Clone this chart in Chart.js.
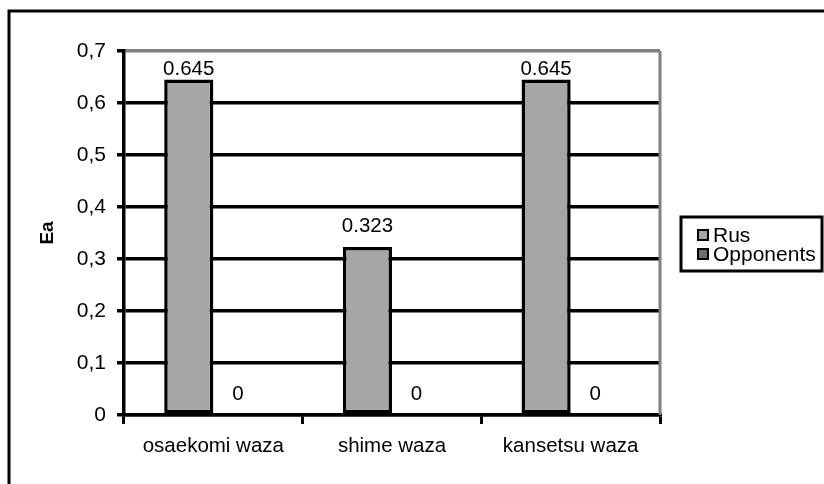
<!DOCTYPE html>
<html>
<head>
<meta charset="utf-8">
<script src="https://cdn.jsdelivr.net/npm/chart.js@4/dist/chart.umd.min.js"></script>
<style>
html,body{margin:0;padding:0;background:#fff;}
canvas{display:block;}
</style>
</head>
<body>
<canvas id="c" width="824" height="484"></canvas>
<script>
const categories = ['osaekomi waza', 'shime waza', 'kansetsu waza'];
const seriesNames = ['Rus', 'Opponents'];
const rusValues = [0.645, 0.323, 0.645];
const opponentValues = [0, 0, 0];
const yMin = 0, yMax = 0.7, yStep = 0.1;
const yTitle = 'Ea';

const FONT = '"Liberation Sans", Arial, sans-serif';

const decorPlugin = {
  id: 'decor',
  beforeDraw(chart) {
    const ctx = chart.ctx;
    ctx.save();
    ctx.fillStyle = '#fff';
    ctx.fillRect(0, 0, chart.width, chart.height);
    // outer frame (left and top)
    ctx.strokeStyle = '#000';
    ctx.lineWidth = 3;
    ctx.beginPath();
    ctx.moveTo(9, chart.height);
    ctx.lineTo(9, 11);
    ctx.lineTo(chart.width, 11);
    ctx.stroke();
    ctx.restore();
  },
  afterDatasetsDraw(chart) {
    const ctx = chart.ctx;
    const area = chart.chartArea;
    ctx.save();
    // right plot border
    ctx.strokeStyle = '#808080';
    ctx.lineWidth = 3;
    ctx.beginPath();
    ctx.moveTo(area.right, area.top);
    ctx.lineTo(area.right, area.bottom);
    ctx.stroke();
    // data labels
    ctx.fillStyle = '#000';
    ctx.font = '20.5px ' + FONT;
    ctx.textAlign = 'center';
    ctx.textBaseline = 'middle';
    chart.data.datasets.forEach((ds, di) => {
      const meta = chart.getDatasetMeta(di);
      meta.data.forEach((el, i) => {
        const v = ds.data[i];
        const y = Math.max(el.y - 21, area.top + 18);
        ctx.fillText(String(v), el.x, y);
      });
    });
    // legend
    const boxL = 681, boxR = 822, boxT = 217, boxB = 271;
    ctx.fillStyle = '#fff';
    ctx.fillRect(boxL, boxT, boxR - boxL, boxB - boxT);
    ctx.strokeStyle = '#000';
    ctx.lineWidth = 3;
    ctx.strokeRect(boxL, boxT, boxR - boxL, boxB - boxT);
    ctx.font = '21px ' + FONT;
    ctx.textAlign = 'left';
    const rowY = [235, 254];
    chart.data.datasets.forEach((ds, di) => {
      const y = rowY[di];
      ctx.fillStyle = ds.legendColor;
      ctx.fillRect(698, y - 5, 10, 10);
      ctx.strokeStyle = '#000';
      ctx.lineWidth = 2;
      ctx.strokeRect(698, y - 5, 10, 10);
      ctx.fillStyle = '#000';
      ctx.fillText(ds.label, 713, y + 1);
    });
    ctx.restore();
  }
};

new Chart(document.getElementById('c'), {
  type: 'bar',
  data: {
    labels: categories,
    datasets: [
      {
        label: seriesNames[0],
        data: rusValues,
        backgroundColor: '#a6a6a6',
        borderColor: '#000',
        borderWidth: 3.5,
        borderSkipped: false,
        legendColor: '#a6a6a6'
      },
      {
        label: seriesNames[1],
        data: opponentValues,
        backgroundColor: '#6e6e6e',
        borderColor: '#000',
        borderWidth: 0,
        legendColor: '#6e6e6e'
      }
    ]
  },
  options: {
    responsive: false,
    devicePixelRatio: 1,
    animation: false,
    layout: { padding: { left: 0, top: 51, right: 164, bottom: 0 } },
    datasets: { bar: { categoryPercentage: 0.55, barPercentage: 1 } },
    plugins: {
      legend: { display: false },
      tooltip: { enabled: false }
    },
    scales: {
      x: {
        offset: true,
        grid: {
          offset: true,
          drawOnChartArea: false,
          drawTicks: true,
          tickLength: 9,
          color: '#000',
          lineWidth: 3
        },
        border: { display: true, color: '#000', width: 3.5 },
        ticks: {
          color: '#000',
          font: { family: FONT, size: 20.5 },
          padding: 10,
          maxRotation: 0
        },
        afterFit(scale) { scale.height = 69; }
      },
      y: {
        min: yMin,
        max: yMax,
        ticks: {
          stepSize: yStep,
          color: '#000',
          font: { family: FONT, size: 21 },
          padding: 11,
          callback: (v) => Number(v).toFixed(1).replace('.', ',').replace(/^0,0$/, '0')
        },
        grid: {
          color: (c) => (c.tick && c.tick.value >= yMax - 1e-9) ? '#808080' : '#000',
          tickColor: '#000',
          lineWidth: 3.5,
          tickLength: 7
        },
        border: { display: true, color: '#000', width: 3.5 },
        title: {
          display: true,
          text: yTitle,
          color: '#000',
          font: { family: FONT, size: 19, weight: 'bold' },
          padding: { top: 36, bottom: 0 }
        },
        afterFit(scale) { scale.width = 124; }
      }
    }
  },
  plugins: [decorPlugin]
});
</script>
</body>
</html>
